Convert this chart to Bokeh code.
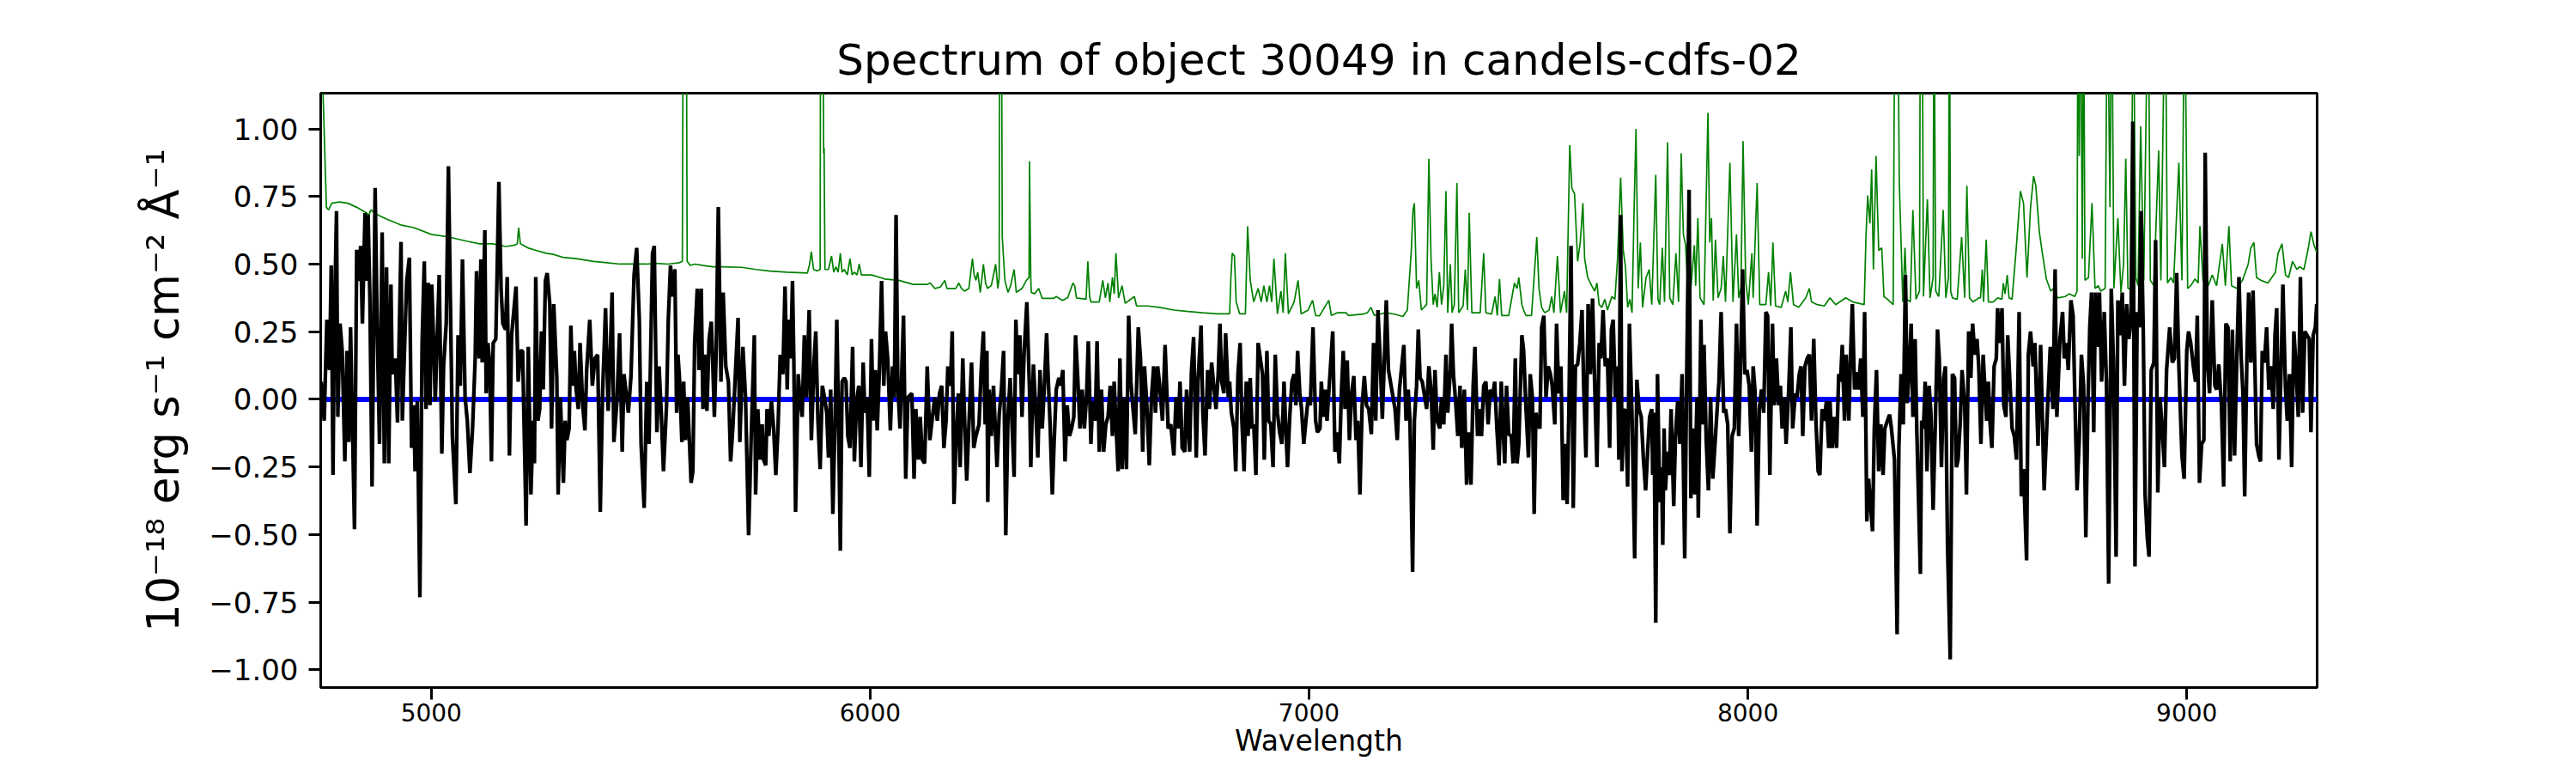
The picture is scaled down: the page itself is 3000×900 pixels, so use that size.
from bokeh.plotting import figure
from bokeh.models import Range1d, FixedTicker, CustomJSTickFormatter
from bokeh.embed import file_html
from bokeh.resources import INLINE

TITLE = "Spectrum of object 30049 in candels-cdfs-02"
X_LABEL = "Wavelength"
Y_LABEL = "10\u207b\u00b9\u2078 erg s\u207b\u00b9 cm\u207b\u00b2 \u00c5\u207b\u00b9"

x_ticks = [5000, 6000, 7000, 8000, 9000]
y_ticks = [-1.0, -0.75, -0.5, -0.25, 0.0, 0.25, 0.5, 0.75, 1.0]

# observed flux (black)
black_wave = [
    4749, 4756, 4762, 4768, 4772, 4776, 4779, 4784, 4787, 4792,
    4797, 4803, 4808, 4812, 4816, 4821, 4825, 4830, 4835, 4839,
    4843, 4849, 4852, 4856, 4860, 4865, 4872, 4877, 4882, 4888,
    4893, 4898, 4903, 4908, 4911, 4918, 4923, 4931, 4934, 4940,
    4944, 4950, 4955, 4960, 4963, 4968, 4974, 4979, 4984, 4988,
    4993, 4997, 5001, 5006, 5009, 5012, 5018, 5024, 5028, 5034,
    5039, 5048, 5056, 5061, 5066, 5071, 5077, 5082, 5088, 5094,
    5100, 5103, 5109, 5113, 5116, 5122, 5125, 5129, 5133, 5137,
    5141, 5147, 5154, 5159, 5163, 5169, 5173, 5178, 5183, 5193,
    5198, 5203, 5208, 5216, 5221, 5227, 5232, 5235, 5238, 5243,
    5247, 5251, 5255, 5260, 5264, 5270, 5274, 5279, 5286, 5289,
    5294, 5301, 5305, 5309, 5314, 5318, 5322, 5326, 5330, 5335,
    5339, 5345, 5350, 5354, 5361, 5367, 5373, 5379, 5385, 5390,
    5397, 5403, 5408, 5412, 5416, 5423, 5429, 5435, 5439, 5449,
    5455, 5462, 5468, 5474, 5478, 5485, 5491, 5496, 5504, 5508,
    5514, 5519, 5524, 5529, 5536, 5540, 5545, 5550, 5555, 5559,
    5562, 5566, 5571, 5575, 5579, 5584, 5592, 5596, 5600, 5606,
    5610, 5615, 5619, 5623, 5628, 5633, 5638, 5641, 5645, 5649,
    5654, 5660, 5665, 5671, 5677, 5682, 5687, 5699, 5703, 5710,
    5716, 5723, 5729, 5736, 5739, 5744, 5749, 5754, 5757, 5762,
    5765, 5769, 5775, 5780, 5785, 5790, 5795, 5801, 5806, 5811,
    5814, 5819, 5823, 5826, 5830, 5836, 5840, 5845, 5850, 5855,
    5861, 5866, 5872, 5876, 5881, 5886, 5891, 5896, 5901, 5905,
    5910, 5915, 5920, 5924, 5928, 5932, 5936, 5941, 5945, 5949,
    5954, 5960, 5964, 5969, 5974, 5979, 5984, 5988, 5993, 5998,
    6003, 6007, 6012, 6016, 6021, 6026, 6031, 6035, 6040, 6046,
    6051, 6055, 6059, 6063, 6068, 6076, 6081, 6086, 6095, 6100,
    6104, 6110, 6114, 6119, 6124, 6130, 6136, 6141, 6147, 6153,
    6158, 6163, 6168, 6173, 6177, 6183, 6187, 6191, 6196, 6201,
    6205, 6211, 6215, 6220, 6225, 6231, 6236, 6241, 6248, 6253,
    6258, 6262, 6266,
    6268, 6271, 6276, 6281, 6284, 6289, 6294, 6299, 6304, 6309,
    6314, 6319, 6328, 6332, 6336, 6341, 6346, 6351, 6357, 6363,
    6366, 6372, 6378, 6382, 6387, 6392, 6397, 6402, 6406, 6410,
    6415, 6419, 6424, 6430, 6434, 6439, 6444, 6449, 6454, 6459,
    6464, 6468, 6473, 6478, 6483, 6488, 6493, 6497, 6503, 6507,
    6513, 6517, 6522, 6527, 6532, 6537, 6542, 6547, 6552, 6556,
    6561, 6565, 6569, 6574, 6580, 6584, 6589, 6594, 6599, 6604,
    6611, 6616, 6621, 6625, 6630, 6636, 6641, 6646, 6650, 6655,
    6659, 6666, 6672, 6679, 6685, 6692, 6697, 6702, 6706, 6711,
    6717, 6721, 6728, 6732, 6737, 6743, 6747, 6754, 6758, 6763,
    6769, 6773, 6778, 6783, 6788, 6793, 6797, 6801, 6806, 6810,
    6816, 6819, 6823, 6829, 6833, 6838, 6843, 6847, 6852, 6857,
    6861, 6866, 6870, 6874, 6879, 6884, 6889, 6894, 6898, 6904,
    6908, 6913, 6918, 6923, 6928, 6933, 6938, 6943, 6947, 6951,
    6956, 6961, 6966, 6970, 6974, 6979, 6983, 6988, 6998, 7003,
    7009, 7015, 7019,
    7025, 7028, 7033, 7037, 7041, 7046, 7054, 7059, 7064, 7069,
    7074, 7078, 7082, 7087, 7092, 7097, 7102, 7107, 7111, 7116,
    7121, 7126, 7131, 7136, 7142, 7147, 7152, 7157, 7162, 7167,
    7172, 7176, 7181, 7187, 7196, 7201, 7206, 7216, 7221, 7226,
    7230, 7236, 7240, 7245, 7249, 7253, 7258, 7268, 7273, 7278,
    7283, 7287, 7292, 7298, 7302, 7307, 7312, 7316, 7322, 7325,
    7329, 7334, 7339, 7344, 7348, 7354, 7359, 7364, 7369, 7374,
    7378, 7384, 7388, 7393, 7398, 7403, 7408, 7413, 7418, 7423,
    7428, 7433, 7438, 7442, 7446, 7450, 7455, 7461, 7465, 7470,
    7474, 7478, 7485, 7489, 7494, 7500, 7504, 7509, 7513, 7517,
    7522, 7526, 7530, 7535, 7540, 7545, 7550, 7554, 7560, 7564,
    7569, 7574, 7579, 7584, 7588, 7592, 7597, 7602, 7607, 7612,
    7617, 7622, 7626, 7631, 7636, 7641, 7646, 7651, 7656, 7661,
    7665, 7670, 7675, 7680, 7685, 7689, 7693, 7698, 7703, 7706,
    7710, 7713, 7717, 7721, 7726, 7730, 7736, 7742, 7747, 7752,
    7757, 7762, 7767, 7772, 7776, 7781,
    7783, 7786, 7790, 7794, 7799, 7803, 7806, 7809, 7812, 7817,
    7821, 7825, 7831, 7835, 7840, 7845, 7850, 7856, 7861, 7866,
    7870, 7874, 7879, 7884, 7887, 7893, 7896, 7900, 7905, 7910,
    7915, 7920, 7930, 7934, 7939, 7945, 7949, 7954, 7959, 7964,
    7969, 7974, 7979, 7983, 7988, 7993, 7998, 8003, 8008, 8012,
    8016, 8021, 8026, 8031, 8036, 8041, 8045, 8050, 8056, 8060,
    8065, 8070, 8074, 8078, 8083, 8087, 8093, 8098, 8102, 8108,
    8112, 8117, 8121, 8125, 8130, 8135, 8140, 8145, 8150, 8155,
    8160, 8164, 8169, 8174, 8179, 8184, 8187, 8192, 8197, 8202,
    8207, 8211, 8215, 8220, 8224, 8230, 8234, 8238, 8243, 8247,
    8252, 8257, 8262, 8266, 8271, 8275, 8284, 8288, 8293, 8298,
    8303, 8308, 8312, 8318, 8323, 8327, 8334, 8340, 8344, 8349,
    8354, 8359, 8363, 8367, 8372, 8376, 8381, 8385, 8393, 8396,
    8400, 8404, 8408, 8413, 8417, 8422, 8427, 8432, 8436, 8441,
    8446, 8450, 8455, 8461, 8466, 8471, 8475, 8479, 8484, 8488,
    8494, 8498, 8503, 8508, 8512, 8517, 8522, 8526, 8531, 8536,
    8544, 8548, 8552, 8556, 8561, 8566, 8569, 8574, 8579, 8583,
    8588, 8592, 8597, 8602, 8607, 8612, 8618, 8623, 8628, 8635,
    8639, 8644, 8650, 8654, 8661, 8667, 8675, 8683, 8689, 8695,
    8700, 8704, 8711, 8717, 8721, 8726, 8730, 8736, 8741, 8745,
    8750, 8755, 8760, 8765, 8770, 8775, 8779, 8783, 8788, 8792,
    8796, 8801, 8806, 8812, 8817, 8822, 8828, 8833, 8839, 8843,
    8848, 8853, 8858, 8863, 8868, 8873, 8877, 8882, 8887, 8892,
    8896, 8901, 8905, 8910, 8914, 8919, 8925, 8929, 8934, 8939,
    8944, 8949, 8954, 8961, 8967, 8972, 8977, 8982, 8989, 8994,
    9000, 9004, 9009, 9015, 9020, 9024, 9029, 9034, 9039, 9042,
    9047, 9052, 9058, 9064, 9068, 9073, 9079, 9084, 9089, 9094,
    9099, 9104, 9109, 9114, 9119, 9124, 9128, 9132, 9137, 9141,
    9146, 9151, 9155, 9159, 9164, 9168, 9172, 9177, 9182, 9187,
    9192, 9197, 9201, 9205, 9210, 9215, 9219, 9225, 9229, 9234,
    9239, 9244, 9249, 9254, 9259, 9264, 9269, 9274, 9279, 9283,
    9288, 9293, 9296,
]
black_flux = [
    0.065, -0.079, 0.294, 0.108, 0.495, -0.280, 0.266, 0.696, -0.065, 0.280,
    0.179, -0.230, 0.179, -0.158, 0.266, -0.151, -0.481, 0.553, 0.438, 0.567,
    0.280, 0.689, 0.438, 0.682, 0.380, -0.323, 0.782, 0.237, -0.165, 0.617,
    -0.237, 0.488, -0.237, 0.424, 0.093, 0.151, -0.086, 0.582, -0.079, 0.237,
    0.438, 0.524, -0.180, -0.022, -0.266, -0.007, -0.732, 0.208, 0.510, -0.036,
    0.431, -0.022, 0.424, 0.179, -0.007, 0.151, 0.460, -0.201, 0.122, 0.280,
    0.862, -0.136, -0.388, 0.237, 0.050, 0.517, 0.007, -0.079, -0.273, -0.108,
    0.151, 0.474, 0.151, 0.517, 0.136, 0.625, 0.022, 0.208, 0.136, -0.230,
    0.208, 0.223, 0.804, 0.409, 0.280, 0.258, 0.452, -0.208, 0.237, 0.417,
    0.065, 0.179, 0.179, -0.467, 0.194, -0.352, -0.079, -0.237, 0.452, -0.079,
    -0.036, 0.251, 0.036, 0.438, 0.467, 0.352, -0.108, 0.352, 0.079, -0.352,
    0.007, -0.309, -0.079, -0.151, -0.108, 0.273, 0.050, 0.179, 0.036, -0.036,
    0.208, -0.022, -0.115, 0.108, 0.294, 0.050, 0.151, 0.165, -0.416, 0.007,
    0.337, -0.043, 0.179, 0.395, -0.158, -0.007, 0.244, -0.194, 0.093, -0.050,
    0.086, 0.460, 0.560, 0.294, -0.165, -0.402, 0.065, -0.165, 0.539, 0.567,
    -0.122, 0.122, -0.050, -0.266, -0.022, 0.294, 0.495, 0.380, 0.481, -0.050,
    0.165, 0.065, -0.158, 0.065, -0.151, 0.007, -0.309, -0.266, 0.208, 0.409,
    0.108, 0.409, -0.036, 0.165, -0.043, 0.223, 0.287, 0.151, -0.065, 0.165,
    0.711, 0.065, 0.395, 0.122, 0.065, -0.230, -0.108, 0.301, -0.158, 0.194,
    0.007, -0.503, -0.136, 0.237, -0.352, -0.036, -0.223, -0.093, -0.223, -0.244,
    -0.036, -0.136, -0.007, -0.108, -0.280, -0.108, 0.165, 0.093, 0.417, 0.036,
    0.294, 0.151, 0.438, 0.151, -0.416, 0.093, 0.007, -0.065, 0.237, 0.007,
    0.330, -0.151, 0.136, 0.251, -0.079, -0.258, 0.050, 0.007, -0.050, -0.215,
    0.036, -0.424, -0.079, 0.294, -0.079, -0.560, 0.065, 0.079, 0.065, -0.136,
    -0.180, 0.194, -0.230, -0.007, 0.050, -0.251, 0.136, -0.050, 0.007, -0.287,
    0.223, -0.079, 0.108, -0.115, 0.108, 0.438, 0.050, 0.251, 0.151, -0.115,
    0.122, 0.007, 0.682, 0.050, -0.108, 0.309, -0.294, 0.007, 0.022, -0.294,
    -0.036, -0.223, -0.065, -0.223, -0.237, 0.122, -0.151, -0.079, 0.007, -0.079,
    0.022, 0.050, -0.180, -0.079, 0.122, 0.050, 0.251, -0.388, -0.136, 0.022,
    -0.251, 0.151, -0.065, -0.301, -0.093, 0.136, -0.180, -0.136, -0.093, 0.108,
    0.251, -0.093, 0.179,
    -0.380, 0.036, -0.136, 0.050, -0.065, -0.251, -0.057, 0.036, 0.179, -0.503,
    -0.065, 0.079, -0.287, 0.294, 0.093, 0.237, -0.065, 0.179, 0.359, 0.036,
    -0.251, 0.129, -0.065, -0.215, 0.108, -0.108, 0.050, 0.244, 0.065, -0.093,
    -0.352, -0.165, 0.036, 0.079, 0.050, 0.108, -0.230, -0.022, -0.136, -0.108,
    -0.065, 0.237, 0.079, -0.108, 0.036, -0.108, 0.007, 0.215, -0.165, -0.007,
    -0.079, 0.215, -0.194, 0.036, -0.194, -0.093, -0.065, 0.050, -0.136, 0.065,
    -0.122, -0.266, 0.151, -0.258, 0.007, -0.258, 0.309, 0.065, -0.036, -0.129,
    0.266, 0.151, -0.194, 0.122, -0.007, -0.244, 0.007, 0.122, -0.050, 0.122,
    0.065, -0.079, 0.201, -0.108, -0.093, -0.208, 0.007, -0.108, 0.065, -0.180,
    -0.194, 0.036, -0.194, 0.101, 0.230, -0.215, 0.065, 0.273, -0.050, -0.208,
    0.108, -0.036, 0.136, 0.050, -0.036, 0.093, 0.280, 0.065, 0.022, 0.244,
    0.007, 0.065, -0.050, -0.108, -0.266, 0.093, 0.208, -0.079, -0.266, 0.065,
    -0.136, 0.079, -0.108, -0.093, -0.280, 0.208, 0.151, 0.093, -0.223, 0.179,
    -0.079, -0.093, -0.251, 0.165, -0.050, -0.122, -0.165, 0.065, -0.108, -0.251,
    -0.065, 0.065, 0.093, -0.022, 0.179, 0.022, -0.036, -0.165, 0.007, -0.022,
    0.266, -0.079, -0.122,
    -0.108, 0.065, -0.065, 0.036, -0.079, 0.050, 0.251, -0.194, -0.122, -0.237,
    0.036, 0.179, -0.036, 0.144, -0.151, 0.022, 0.086, -0.151, -0.079, -0.352,
    -0.022, 0.086, -0.022, -0.036, -0.129, 0.208, -0.079, 0.330, 0.151, -0.072,
    0.165, 0.366, 0.108, 0.050, -0.036, -0.151, 0.036, 0.201, -0.079, 0.036,
    -0.079, -0.639, -0.079, 0.050, 0.258, 0.079, 0.065, -0.036, 0.122, 0.036,
    -0.187, 0.108, -0.079, -0.108, 0.007, -0.093, 0.165, -0.050, 0.108, 0.280,
    0.093, -0.007, -0.136, 0.050, -0.180, 0.036, -0.316, -0.122, -0.316, 0.050,
    0.194, -0.136, -0.036, -0.136, 0.050, 0.065, -0.093, 0.036, 0.007, 0.065,
    -0.108, -0.244, 0.065, -0.108, -0.237, 0.050, -0.129, -0.136, -0.237, 0.151,
    -0.237, -0.165, 0.237, 0.179, -0.022, -0.215, 0.093, 0.007, -0.424, -0.050,
    -0.093, -0.108, 0.266, 0.309, 0.007, 0.122, 0.093, 0.050, -0.093, 0.280,
    0.022, 0.122, -0.373, -0.165, -0.388, -0.050, 0.567, -0.402, 0.122, 0.129,
    0.208, 0.330, 0.036, -0.215, 0.352, 0.093, 0.373, 0.050, -0.251, 0.208,
    0.151, 0.330, 0.122, 0.151, -0.180, 0.258, 0.294, 0.007, 0.122, -0.223,
    0.682, -0.266, -0.050, -0.036, -0.323, 0.280, -0.065, -0.589, 0.072, -0.036,
    -0.065, -0.223, -0.337, -0.180, -0.065, -0.036,
    -0.280, -0.050, -0.826, 0.093, -0.380, -0.251, -0.539, -0.108, -0.337, -0.194,
    -0.280, -0.036, -0.395, -0.136, -0.007, -0.165, 0.093, -0.589, 0.151, 0.775,
    -0.366, -0.108, -0.352, 0.007, -0.438, 0.294, -0.093, 0.201, -0.151, -0.337,
    0.007, -0.294, -0.036, 0.065, 0.323, -0.050, -0.036, -0.093, -0.496, -0.136,
    -0.108, 0.280, -0.136, 0.108, 0.481, 0.093, 0.108, 0.050, -0.194, 0.122,
    0.036, -0.467, -0.036, 0.036, -0.050, 0.323, 0.309, -0.280, 0.280, -0.022,
    0.151, -0.022, 0.050, -0.108, 0.007, -0.165, 0.036, 0.266, -0.108, 0.022,
    0.007, 0.093, 0.122, -0.136, 0.122, 0.151, 0.165, -0.079, 0.223, -0.079,
    -0.266, -0.280, -0.036, -0.079, -0.007, -0.180, -0.007, -0.180, -0.065, -0.180,
    0.093, 0.065, 0.201, -0.079, 0.165, -0.079, 0.165, 0.352, 0.036, 0.101,
    0.036, 0.151, -0.065, 0.323, -0.452, -0.294, -0.488, -0.108, 0.108, -0.266,
    -0.093, -0.280, -0.108, -0.079, -0.057, -0.108, -0.223, -0.869, -0.180, 0.093,
    -0.093, 0.460, -0.014, 0.093, 0.280, -0.065, 0.223, -0.122, -0.646, -0.079,
    -0.108, 0.065, -0.266, 0.050, -0.050, -0.409, -0.093, 0.258, 0.151, -0.251,
    0.079, 0.122, -0.553, -0.962, 0.093, 0.079, -0.251, -0.223, -0.079, 0.108,
    -0.022, -0.352, 0.251, 0.079, 0.280, 0.165, 0.223, 0.122, -0.165, 0.165,
    -0.079, 0.065, -0.093, -0.180, 0.122, 0.151, 0.337, 0.208, 0.337, -0.022,
    -0.065, 0.237, 0.065, -0.108, -0.136, -0.223, 0.323, -0.359, -0.258, -0.596,
    0.165, 0.251, 0.122, 0.208, -0.172, 0.201, -0.337, -0.022, 0.194, -0.036,
    0.481, -0.065, 0.223, 0.323, 0.151, 0.208, 0.108, 0.366, 0.309, 0.007,
    -0.337, -0.151, 0.165, 0.050, -0.510, -0.007, 0.266, 0.395, -0.122, 0.395,
    0.194, 0.395, 0.065, 0.323, 0.065, -0.682, 0.409, 0.136, -0.582, 0.366,
    0.237, 0.395, 0.050, 0.352, 0.223, 0.294, 1.027, -0.618, 0.323, 0.266,
    0.696, 0.237, -0.352, -0.510, -0.582, 0.108, 0.136, 0.589, -0.345, 0.007,
    -0.108, -0.251, 0.108, 0.266, 0.136, 0.151, 0.467, 0.122, -0.208, -0.294,
    0.179, 0.251, 0.208, 0.122, 0.065, 0.309, -0.309, -0.165, -0.151, 0.912,
    0.136, 0.022, 0.366, 0.050, 0.036, 0.129, -0.022, -0.323, 0.280, 0.266,
    -0.230, 0.258, -0.208, 0.151, 0.452, 0.151, 0.022, -0.359, 0.151, 0.395,
    0.136, 0.402, 0.136, -0.165, -0.208, -0.230, 0.179, 0.136, 0.266, 0.036,
    0.122, -0.036, 0.237, 0.337, -0.223, 0.122, 0.424, 0.036, -0.079, 0.093,
    -0.251, 0.251, 0.122, -0.065, 0.452, -0.050, 0.251, 0.237, 0.223, -0.122,
    0.237, 0.266, 0.352,
]

# noise / sky spectrum (green)
green_wave = [
    4748, 4753, 4761, 4766, 4773, 4790, 4810, 4830, 4852, 4858,
    4862, 4880, 4900, 4930, 4960, 5000, 5040, 5080, 5110, 5140,
    5170, 5190, 5196, 5199, 5203, 5220, 5240, 5262, 5280, 5300,
    5330, 5370, 5400, 5430, 5460, 5490,
    5511, 5540, 5565, 5572, 5574, 5581, 5583, 5590, 5600, 5620,
    5641, 5660, 5707, 5740, 5772, 5810, 5857, 5862, 5866, 5871,
    5880, 5886, 5887, 5892, 5894, 5895, 5897, 5905, 5912, 5917,
    5922, 5927, 5932, 5936, 5941, 5948, 5954, 5959, 5964, 5970,
    5975, 5980, 5987, 6003, 6033, 6065, 6098, 6130, 6137, 6147,
    6160, 6170, 6175, 6195, 6202, 6208, 6215, 6225, 6233, 6237,
    6241, 6245, 6251, 6258, 6263, 6267,
    6276, 6286, 6291, 6294, 6295, 6299, 6301, 6304, 6307, 6314,
    6320, 6328, 6333, 6346, 6356, 6362, 6363, 6366, 6367, 6375,
    6384, 6392, 6418, 6424, 6438, 6450, 6462, 6466, 6470, 6492,
    6496, 6500, 6503, 6522, 6530, 6536, 6542, 6546, 6552, 6556,
    6560, 6566, 6574, 6581, 6602, 6607, 6633, 6659, 6692, 6724,
    6757, 6790, 6819, 6822, 6825, 6830, 6834, 6842, 6855, 6860,
    6866, 6874, 6884, 6891, 6897, 6904, 6910, 6915, 6920, 6928,
    6936, 6941, 6946, 6953, 6966, 6975, 6982, 6998, 7008, 7015,
    7024,
    7045, 7051, 7064, 7084, 7090, 7123, 7133, 7141, 7149, 7175,
    7195, 7214, 7224, 7233, 7237, 7240, 7245, 7250, 7256, 7268,
    7273, 7278, 7283, 7287, 7292, 7297, 7302, 7307, 7312, 7316,
    7322, 7326, 7331, 7337, 7341, 7351, 7356, 7361, 7365, 7371,
    7390, 7398, 7403, 7416, 7424, 7429, 7434, 7439, 7455, 7468,
    7474, 7478, 7485, 7489, 7494, 7507, 7519, 7524, 7530, 7537,
    7547, 7553, 7558, 7566, 7573, 7582, 7587, 7594, 7599, 7605,
    7612, 7618, 7624, 7628, 7635, 7644, 7651, 7656, 7661, 7667,
    7674, 7680, 7690, 7697, 7703, 7710, 7716, 7721, 7726, 7731,
    7736, 7741, 7745, 7750, 7755, 7760, 7768, 7775, 7781,
    7790, 7795, 7799, 7805, 7810, 7817, 7822, 7829, 7836, 7842,
    7848, 7853, 7858, 7863, 7868, 7878, 7881, 7886, 7891, 7900,
    7909, 7913, 7917, 7921, 7926, 7932, 7939, 7944, 7949, 7959,
    7966, 7974, 7979, 7984, 7989, 7995, 8001, 8009, 8012, 8021,
    8027, 8041, 8047, 8052, 8057, 8063, 8076, 8086, 8091, 8097,
    8104, 8116, 8132, 8140, 8145, 8158, 8174, 8187, 8200, 8223,
    8239, 8265, 8269, 8273, 8278, 8282, 8286, 8292, 8298, 8305,
    8310, 8318, 8331, 8335, 8341, 8345, 8349, 8353, 8358, 8362,
    8370, 8376, 8383, 8391, 8393, 8397, 8400, 8409, 8415, 8422,
    8424, 8428, 8435, 8445, 8451, 8457, 8459, 8462, 8466, 8477,
    8487, 8494, 8499, 8505, 8513, 8526, 8530, 8534, 8537, 8543,
    8548, 8559, 8569, 8579, 8582, 8586, 8591, 8595, 8602, 8612,
    8621, 8628, 8636, 8644, 8651, 8656, 8664, 8670, 8680, 8690,
    8697, 8706, 8723, 8732, 8745, 8750, 8752, 8755, 8758, 8762,
    8765, 8768, 8776, 8784, 8791, 8798, 8804, 8814, 8819, 8825,
    8829, 8834, 8843, 8850, 8856, 8861, 8866, 8873, 8878, 8884,
    8889, 8895, 8902, 8912, 8917, 8925, 8936, 8941, 8951, 8956,
    8964, 8970, 8982, 8989, 8995, 9002, 9009, 9019, 9026, 9030,
    9037, 9049, 9058, 9068, 9081, 9088, 9096, 9102, 9114, 9127,
    9140, 9146, 9153, 9159, 9169, 9185, 9202, 9208, 9217, 9225,
    9232, 9241, 9251, 9257, 9267, 9277, 9283, 9290, 9297,
]
green_flux = [
    1.80, 1.15, 0.71, 0.70, 0.725, 0.73, 0.725, 0.71, 0.69, 0.68,
    0.70, 0.68, 0.665, 0.645, 0.635, 0.61, 0.60, 0.585, 0.575, 0.575,
    0.565, 0.57, 0.575, 0.635, 0.575, 0.56, 0.55, 0.54, 0.535, 0.525,
    0.52, 0.51, 0.505, 0.50, 0.50, 0.50,
    0.503, 0.50, 0.505, 0.51, 1.6, 1.6, 0.51, 0.495, 0.50, 0.495,
    0.49, 0.49, 0.488, 0.48, 0.474, 0.47, 0.467, 0.50, 0.546, 0.48,
    0.475, 0.48, 1.6, 1.6, 0.91, 0.93, 0.48, 0.48, 0.53, 0.47,
    0.49, 0.47, 0.54, 0.47, 0.48, 0.46, 0.52, 0.46, 0.47, 0.46,
    0.50, 0.46, 0.46, 0.46, 0.445, 0.44, 0.425, 0.425, 0.43, 0.41,
    0.415, 0.44, 0.41, 0.41, 0.43, 0.41, 0.40, 0.41, 0.52, 0.46,
    0.44, 0.47, 0.395, 0.50, 0.43, 0.41,
    0.42, 0.50, 0.41, 0.45, 1.6, 1.6, 0.60, 0.52, 0.44, 0.395,
    0.42, 0.48, 0.395, 0.41, 0.44, 0.45, 0.88, 0.45, 0.395, 0.39,
    0.41, 0.373, 0.373, 0.38, 0.366, 0.375, 0.43, 0.42, 0.375, 0.37,
    0.51, 0.38, 0.36, 0.36, 0.44, 0.375, 0.43, 0.36, 0.45, 0.39,
    0.54, 0.375, 0.42, 0.355, 0.38, 0.345, 0.345, 0.34, 0.33, 0.325,
    0.32, 0.316, 0.316, 0.45, 0.54, 0.53, 0.36, 0.316, 0.316, 0.64,
    0.44, 0.36, 0.41, 0.36, 0.42, 0.36, 0.42, 0.36, 0.52, 0.316,
    0.40, 0.32, 0.54, 0.316, 0.36, 0.44, 0.316, 0.33, 0.366, 0.31,
    0.309,
    0.366, 0.31, 0.32, 0.32, 0.31, 0.315, 0.32, 0.34, 0.31, 0.32,
    0.315, 0.306, 0.33, 0.55, 0.70, 0.725, 0.41, 0.44, 0.33, 0.35,
    0.89, 0.52, 0.35, 0.39, 0.34, 0.47, 0.35, 0.42, 0.77, 0.32,
    0.50, 0.32, 0.35, 0.80, 0.32, 0.345, 0.48, 0.33, 0.69, 0.32,
    0.32, 0.54, 0.32, 0.315, 0.38, 0.31, 0.445, 0.31, 0.31, 0.43,
    0.41, 0.45, 0.35, 0.33, 0.31, 0.31, 0.60, 0.41, 0.34, 0.32,
    0.33, 0.38, 0.32, 0.53, 0.32, 0.40, 0.32, 0.94, 0.78, 0.76,
    0.51, 0.58, 0.725, 0.52, 0.45, 0.42, 0.40, 0.43, 0.35, 0.34,
    0.37, 0.33, 0.38, 0.37, 0.52, 0.82, 0.55, 0.49, 0.34, 0.37,
    0.32, 0.725, 1.00, 0.41, 0.58, 0.34, 0.45, 0.48, 0.35,
    0.83, 0.37, 0.35, 0.56, 0.36, 0.95, 0.375, 0.35, 0.54, 0.36,
    0.91, 0.61, 0.57, 0.41, 0.37, 0.57, 0.42, 0.67, 0.375, 0.35,
    1.06, 0.58, 0.67, 0.365, 0.59, 0.375, 0.41, 0.53, 0.36, 0.875,
    0.36, 0.61, 0.375, 0.41, 0.955, 0.44, 0.35, 0.54, 0.375, 0.80,
    0.35, 0.35, 0.47, 0.345, 0.58, 0.345, 0.34, 0.40, 0.36, 0.47,
    0.35, 0.34, 0.375, 0.41, 0.36, 0.35, 0.345, 0.375, 0.35, 0.375,
    0.36, 0.35, 0.60, 0.754, 0.65, 0.85, 0.48, 0.90, 0.55, 0.56,
    0.38, 0.37, 0.35, 1.6, 1.6, 0.80, 0.58, 0.36, 0.56, 0.37,
    0.36, 0.70, 0.37, 0.40, 1.6, 1.6, 0.38, 0.74, 0.375, 0.45,
    1.6, 0.40, 0.38, 0.70, 0.375, 0.45, 1.6, 0.40, 0.375, 0.37,
    0.60, 0.375, 0.79, 0.375, 0.36, 0.375, 0.375, 0.48, 0.36, 0.59,
    0.36, 0.36, 0.375, 0.37, 0.43, 0.39, 0.46, 0.375, 0.37, 0.57,
    0.77, 0.725, 0.45, 0.71, 0.825, 0.79, 0.62, 0.55, 0.445, 0.40,
    0.41, 0.375, 0.38, 0.39, 0.38, 0.40, 1.6, 0.90, 1.6, 0.52,
    1.6, 0.44, 0.45, 0.725, 0.41, 0.42, 0.40, 0.41, 1.6, 0.71,
    1.6, 0.41, 0.67, 0.395, 0.50, 0.89, 0.41, 0.41, 1.6, 0.45,
    0.42, 1.01, 0.44, 1.6, 0.44, 0.42, 0.92, 0.44, 1.6, 0.43,
    0.45, 0.43, 0.875, 0.44, 1.6, 0.41, 0.42, 0.445, 0.43, 0.64,
    0.44, 0.42, 0.46, 0.42, 0.575, 0.42, 0.64, 0.42, 0.41, 0.44,
    0.50, 0.56, 0.58, 0.45, 0.44, 0.43, 0.47, 0.54, 0.575, 0.46,
    0.45, 0.51, 0.48, 0.49, 0.48, 0.56, 0.62, 0.57, 0.54,
]

# model (blue)
model_wave = [4748, 9297]
model_flux = [0.0, 0.0]

assert len(black_wave) == len(black_flux)
assert len(green_wave) == len(green_flux)

FONT = "DejaVu Sans"

p = figure(
    width=2984, height=884,
    output_backend="svg", toolbar_location=None,
    x_range=Range1d(4748, 9297), y_range=Range1d(-1.066, 1.132),
    title=TITLE,
    min_border_left=373, min_border_right=286,
    min_border_top=108, min_border_bottom=70,
    background_fill_color="white", border_fill_color="white",
    outline_line_color="black", outline_line_width=3,
)

p.title.align = "center"
p.title.text_font = FONT
p.title.text_font_size = "50px"
p.title.text_font_style = "normal"
p.title.text_color = "black"
p.title.standoff = 20

p.grid.visible = False

p.line(green_wave, green_flux, line_color="#008000", line_width=1.7)
p.line(model_wave, model_flux, line_color="#0000ff", line_width=6)
p.line(black_wave, black_flux, line_color="#000000", line_width=4.3)

for ax in (p.xaxis[0], p.yaxis[0]):
    ax.axis_line_width = 3
    ax.axis_line_color = "black"
    ax.major_tick_line_width = 3
    ax.major_tick_line_color = "black"
    ax.major_tick_out = 14
    ax.major_tick_in = 0
    ax.minor_tick_out = 0
    ax.minor_tick_in = 0
    ax.major_label_text_font = FONT
    ax.major_label_text_color = "black"
    ax.axis_label_text_font = FONT
    ax.axis_label_text_font_style = "normal"
    ax.axis_label_text_color = "black"

p.xaxis.ticker = FixedTicker(ticks=x_ticks)
p.xaxis.major_label_text_font_size = "28px"
p.xaxis.major_label_standoff = 4
p.xaxis.axis_label = X_LABEL
p.xaxis.axis_label_text_font_size = "33px"
p.xaxis.axis_label_standoff = 0

p.yaxis.ticker = FixedTicker(ticks=y_ticks)
p.yaxis.formatter = CustomJSTickFormatter(
    code="return (tick < 0 ? '\u2212' : '') + Math.abs(tick).toFixed(2);")
p.yaxis.major_label_text_font_size = "34px"
p.yaxis.major_label_standoff = 12
p.yaxis.axis_label = Y_LABEL
p.yaxis.axis_label_text_font_size = "51px"
p.yaxis.axis_label_standoff = 20

open("out.html", "w").write(file_html(p, INLINE))
